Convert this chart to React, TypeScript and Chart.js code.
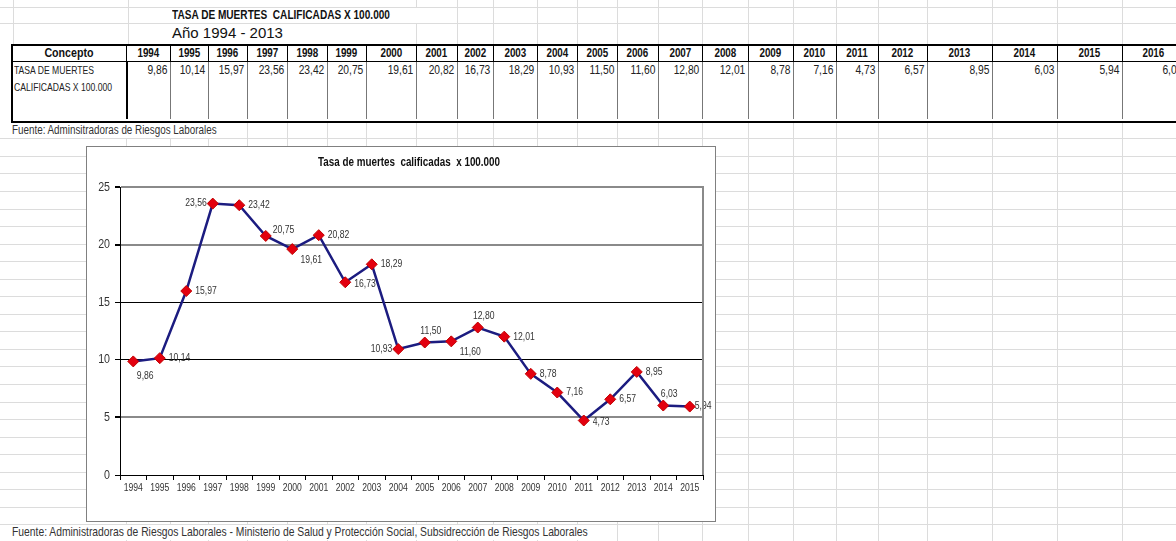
import React, { useEffect, useRef } from 'react';
import { Chart, registerables } from 'chart.js';

Chart.register(...registerables);

const SANS = "'Liberation Sans', Arial, sans-serif";
const NARROW_X = 0.82; // Arial Narrow ≈ 82% of Arial width

// ---- data ----
const years = ['1994', '1995', '1996', '1997', '1998', '1999', '2000', '2001', '2002', '2003', '2004', '2005', '2006', '2007', '2008', '2009', '2010', '2011', '2012', '2013', '2014', '2015', '2016'];
const rates = [9.86, 10.14, 15.97, 23.56, 23.42, 20.75, 19.61, 20.82, 16.73, 18.29, 10.93, 11.5, 11.6, 12.8, 12.01, 8.78, 7.16, 4.73, 6.57, 8.95, 6.03, 5.94, 6.04];
const chartYearCount = 22; // chart shows 1994 - 2015
const yTicks = [0, 5, 10, 15, 20, 25];

const tableTitle = 'TASA DE MUERTES  CALIFICADAS X 100.000';
const tableSubtitle = 'Año 1994 - 2013';
const conceptHeader = 'Concepto';
const conceptLines = ['TASA DE MUERTES', 'CALIFICADAS X 100.000'];
const sourceShort = 'Fuente: Adminsitradoras de Riesgos Laborales';
const sourceLong = 'Fuente: Administradoras de Riesgos Laborales - Ministerio de Salud y Protección Social, Subsidrección de Riesgos Laborales';
const chartTitle = 'Tasa de muertes  calificadas  x 100.000';

// ---- label placement (style) ----
const labelPlacement = ['belowRight', 'right', 'right', 'left', 'right', 'rightUp', 'belowRightFar', 'right', 'rightDown', 'right', 'left', 'above', 'belowRightFar', 'above', 'right', 'right', 'right', 'rightDown', 'right', 'right', 'above', 'rightTight'];
const OFFSETS: Record<string, [number, number, CanvasTextAlign]> = {
  right: [9, 0, 'left'],
  rightTight: [5, 0, 'left'],
  rightUp: [7, -6, 'left'],
  rightDown: [9, 2, 'left'],
  left: [-6, 0, 'right'],
  above: [6, -11, 'center'],
  belowRight: [12, 15, 'center'],
  belowRightFar: [19, 11, 'center'],
};

// ---- layout (spreadsheet geometry) ----
const colEdges = [12, 126, 170, 208, 247, 287, 327, 366, 416, 457, 493, 537, 577, 617, 658, 702, 748, 793, 836, 878, 927, 992, 1057, 1122, 1185];

const fmt = (v: number) => v.toFixed(2).replace('.', ',');

function narrowText(ctx: CanvasRenderingContext2D, text: string, x: number, y: number) {
  ctx.save();
  ctx.translate(x, y);
  ctx.scale(NARROW_X, 1);
  ctx.fillText(text, 0, 0);
  ctx.restore();
}

const framePlugin = {
  id: 'frame',
  afterDraw(chart: any) {
    const { ctx, chartArea } = chart;
    ctx.save();
    ctx.strokeStyle = '#8a8a8a';
    ctx.lineWidth = 2;
    ctx.beginPath();
    ctx.moveTo(chartArea.right, chartArea.top - 1);
    ctx.lineTo(chartArea.right, chartArea.bottom);
    ctx.stroke();
    ctx.fillStyle = '#111';
    ctx.font = `bold 12px ${SANS}`;
    ctx.textAlign = 'center';
    ctx.textBaseline = 'middle';
    narrowText(ctx, chartTitle, 322, 16);

    // axis tick labels, placed from the chart's own scales
    const xs = chart.scales.x;
    const ys = chart.scales.y;
    ctx.fillStyle = '#333';
    ctx.font = `10.5px ${SANS}`;
    ctx.textAlign = 'center';
    xs.ticks.forEach((t: any, i: number) => {
      narrowText(ctx, String(xs.getLabelForValue(t.value)), xs.getPixelForTick(i), xs.top + 13);
    });
    ctx.font = `13px ${SANS}`;
    ctx.textAlign = 'right';
    ys.ticks.forEach((t: any, i: number) => {
      narrowText(ctx, String(t.value), ys.right - 10, ys.getPixelForTick(i));
    });
    ctx.restore();
  },
};

const labelPlugin = {
  id: 'pointLabels',
  afterDatasetsDraw(chart: any) {
    const { ctx } = chart;
    const meta = chart.getDatasetMeta(0);
    const values = chart.data.datasets[0].data as number[];
    ctx.save();
    ctx.font = `10.5px ${SANS}`;
    ctx.fillStyle = '#333';
    ctx.textBaseline = 'middle';
    meta.data.forEach((pt: any, i: number) => {
      const [dx, dy, align] = OFFSETS[labelPlacement[i]] || OFFSETS.right;
      ctx.textAlign = align;
      narrowText(ctx, fmt(values[i]), pt.x + dx, pt.y + dy);
    });
    ctx.restore();
  },
};

function LineChart() {
  const ref = useRef<HTMLCanvasElement>(null);
  useEffect(() => {
    const labels = years.slice(0, chartYearCount);
    const values = rates.slice(0, chartYearCount);
    const grayVals = [5, 20, 25];
    const chart = new Chart(ref.current as HTMLCanvasElement, {
      type: 'line',
      data: {
        labels,
        datasets: [
          {
            data: values,
            borderColor: '#1c1c80',
            borderWidth: 2.5,
            pointStyle: 'rectRot',
            pointRadius: 5.5,
            pointBackgroundColor: '#e3000f',
            pointBorderColor: '#c00000',
            pointBorderWidth: 1,
            tension: 0,
            fill: false,
          },
        ],
      },
      options: {
        animation: false,
        responsive: false,
        maintainAspectRatio: false,
        devicePixelRatio: 1,
        layout: { padding: { left: 0, right: 12, top: 40, bottom: 0 } },
        plugins: {
          legend: { display: false },
          title: { display: false },
          tooltip: { enabled: false },
        },
        scales: {
          x: {
            type: 'category',
            offset: true,
            grid: {
              display: true,
              drawOnChartArea: false,
              drawTicks: true,
              tickLength: 5,
              color: '#000',
              offset: true,
            },
            border: { color: '#000', width: 1 },
            ticks: { display: false, autoSkip: false, maxRotation: 0 },
            afterFit: (s: any) => {
              s.height = 46;
            },
          },
          y: {
            min: 0,
            max: 25,
            afterBuildTicks: (s: any) => {
              s.ticks = yTicks.map((v) => ({ value: v }));
            },
            grid: {
              drawTicks: true,
              tickLength: 5,
              tickColor: '#000',
              color: (c: any) => (grayVals.includes(c.tick?.value) ? '#8a8a8a' : '#000'),
              lineWidth: (c: any) => (grayVals.includes(c.tick?.value) ? 2 : 1),
            },
            border: { color: '#000', width: 1 },
            ticks: { display: false },
            afterFit: (s: any) => {
              s.width = 33;
            },
          },
        },
      },
      plugins: [framePlugin, labelPlugin],
    });
    return () => chart.destroy();
  }, []);
  return <canvas ref={ref} width={628} height={374} style={{ display: 'block', width: 628, height: 374 }} />;
}

const abs = (o: React.CSSProperties): React.CSSProperties => ({ position: 'absolute', ...o });

function N({ children, origin = 'left', style }: { children: React.ReactNode; origin?: string; style?: React.CSSProperties }) {
  return (
    <span style={{ display: 'inline-block', whiteSpace: 'pre', transform: `scaleX(${NARROW_X})`, transformOrigin: origin, ...style }}>
      {children}
    </span>
  );
}

export default function App() {
  const gridColor = '#dcdcdc';
  const rowLines: number[] = [7, 23];
  for (let y = 138.3; y < 541; y += 17.55) rowLines.push(Math.round(y));
  const topCols = [13, 128, 416, 457, 493, 537, 577, 617, 658, 702, 748, 793, 836, 878, 927, 992, 1057, 1122];

  return (
    <div style={abs({ left: 0, top: 0, width: 1176, height: 541, background: '#fff', overflow: 'hidden', fontFamily: SANS, color: '#111' })}>
      {/* spreadsheet gridlines */}
      {rowLines.map((y, i) => (
        <div key={'r' + i} style={abs({ left: 0, top: y, width: 1176, height: 1, background: gridColor })} />
      ))}
      {topCols.map((x, i) => (
        <div key={'tc' + i} style={abs({ left: x, top: 0, width: 1, height: 45, background: gridColor })} />
      ))}
      {colEdges.slice(1).map((x, i) => (
        <div key={'bc' + i} style={abs({ left: x, top: 120, width: 1, height: 421, background: gridColor })} />
      ))}

      {/* titles */}
      <div style={abs({ left: 172, top: 8, fontSize: 12.3, fontWeight: 'bold', lineHeight: '15px', background: '#fff' })}>
        <N>{tableTitle}</N>
      </div>
      <div style={abs({ left: 172, top: 24, fontSize: 15, whiteSpace: 'pre', lineHeight: '18px', background: '#fff' })}>{tableSubtitle}</div>

      {/* table */}
      <div style={abs({ left: 11, top: 44, width: 1200, height: 75, border: '2px solid #000', background: '#fff' })} />
      <div style={abs({ left: 12, top: 61, width: 1200, height: 1, background: '#000' })} />
      {colEdges.slice(1, -1).map((x, i) => (
        <React.Fragment key={'v' + i}>
          <div style={abs({ left: x, top: 45, width: 1, height: 17, background: '#000' })} />
          <div style={abs({ left: x, top: 62, width: i === 0 ? 2 : 1, height: 57, background: i === 0 ? '#000' : '#777' })} />
        </React.Fragment>
      ))}
      <div style={abs({ left: colEdges[0], top: 45, width: colEdges[1] - colEdges[0], height: 16, lineHeight: '16px', fontSize: 13, fontWeight: 'bold', textAlign: 'center' })}>
        <N origin="center">{conceptHeader}</N>
      </div>
      {years.map((yr, i) => (
        <div key={'h' + i} style={abs({ left: colEdges[i + 1], top: 45, width: colEdges[i + 2] - colEdges[i + 1], height: 16, lineHeight: '16px', fontSize: 12, fontWeight: 'bold', textAlign: 'center' })}>
          <N origin="center">{yr}</N>
        </div>
      ))}
      <div style={abs({ left: colEdges[0] + 2, top: 62, fontSize: 10.5, lineHeight: '17px', color: '#222' })}>
        {conceptLines.map((l, i) => (
          <div key={i}>
            <N>{l}</N>
          </div>
        ))}
      </div>
      {rates.map((v, i) => (
        <div key={'d' + i} style={abs({ left: colEdges[i + 1], top: 62, width: colEdges[i + 2] - colEdges[i + 1] - 3, height: 16, lineHeight: '16px', fontSize: 12.5, textAlign: 'right', color: '#222' })}>
          <N origin="right">{fmt(v)}</N>
        </div>
      ))}

      {/* sources */}
      <div style={abs({ left: 12, top: 123, fontSize: 12, lineHeight: '15px', color: '#333' })}>
        <N style={{ background: '#fff' }}>{sourceShort}</N>
      </div>
      <div style={abs({ left: 12, top: 525, fontSize: 12.6, lineHeight: '15px', color: '#333' })}>
        <N style={{ background: '#fff' }}>{sourceLong}</N>
      </div>

      {/* chart box */}
      <div style={abs({ left: 86, top: 146, width: 628, height: 374, border: '1px solid #808080', background: '#fff' })}>
        <LineChart />
      </div>
    </div>
  );
}
